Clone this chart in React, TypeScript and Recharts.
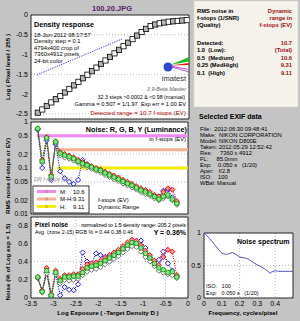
import React from "react";
import { CartesianGrid, ComposedChart, Line, ReferenceArea, ReferenceLine, XAxis, YAxis } from "recharts";

const FONT = '"Liberation Sans", Arial, Helvetica, sans-serif';

// log exposure of each density step
const exposure = [
  -3.35, -3.25, -3.15, -3.05, -2.95, -2.85, -2.75, -2.65, -2.55, -2.45, -2.35, -2.25, -2.15, -2.05, -1.95, -1.85,
  -1.75, -1.65, -1.55, -1.45, -1.35, -1.25, -1.15, -1.05, -0.95, -0.85, -0.75, -0.65, -0.55, -0.45, -0.35, -0.25,
];
const densityExposure = [...exposure, -0.15, -0.05];
const densityLevel = [
  -2.47, -2.39, -2.3, -2.21, -2.13, -2.05, -1.96, -1.87, -1.78, -1.69, -1.6, -1.51, -1.42, -1.33, -1.24, -1.15,
  -1.06, -0.97, -0.88, -0.79, -0.7, -0.61, -0.52, -0.43, -0.35, -0.28, -0.24, -0.21, -0.19, -0.17, -0.16, -0.15,
  -0.14, -0.13,
];
const gammaExposure = [-3.37, -1.48];
const gammaLevel = [-1.515, -0.606];

// RMS noise in f-stops
const rmsR = [
  0.72, 0.15, 0.47, 0.07, 0.38, 0.22, 0.2, 0.185, 0.17, 0.15, 0.135, 0.12, 0.11, 0.1, 0.093, 0.083, 0.075, 0.068,
  0.062, 0.055, 0.05, 0.045, 0.04, 0.036, 0.033, 0.03, 0.026, 0.024, 0.03, 0.036, 0.034, 0.019,
];
const rmsG = [
  0.72, 0.14, 0.45, 0.065, 0.37, 0.21, 0.19, 0.175, 0.16, 0.14, 0.125, 0.115, 0.105, 0.095, 0.088, 0.078, 0.07,
  0.063, 0.057, 0.051, 0.046, 0.042, 0.037, 0.033, 0.03, 0.027, 0.024, 0.021, 0.024, 0.026, 0.021, 0.017,
];
const rmsB = [
  0.68, 0.1, 0.4, 0.055, 0.33, 0.085, 0.06, 0.05, 0.045, 0.055, 0.15, 0.12, 0.1, 0.092, 0.085, 0.078, 0.072, 0.065,
  0.058, 0.052, 0.047, 0.042, 0.037, 0.033, 0.03, 0.027, 0.025, 0.024, 0.032, 0.034, 0.023, 0.018,
];
const rmsY = [
  0.7, 0.13, 0.43, 0.06, 0.35, 0.19, 0.17, 0.16, 0.145, 0.13, 0.115, 0.105, 0.096, 0.087, 0.08, 0.071, 0.064, 0.057,
  0.052, 0.046, 0.042, 0.038, 0.034, 0.03, 0.027, 0.025, 0.022, 0.02, 0.022, 0.024, 0.02, 0.016,
];
const rangeLevel = [0.5, 0.25, 0.1];
const rangeStart = [-3.37, -2.95, -2.93];
const rangeColor = ["#f088f0", "#f4b090", "#f0f000"];

// pixel noise, % of log exposure range
const pixR = [
  0.23, 0.08, 0.33, 0.04, 0.3, 0.21, 0.25, 0.25, 0.26, 0.26, 0.32, 0.37, 0.38, 0.39, 0.41, 0.44, 0.47, 0.5, 0.53,
  0.57, 0.61, 0.64, 0.63, 0.58, 0.52, 0.47, 0.41, 0.36, 0.45, 0.53, 0.51, 0.25,
];
const pixG = [
  0.23, 0.07, 0.3, 0.03, 0.28, 0.19, 0.23, 0.23, 0.24, 0.24, 0.28, 0.33, 0.35, 0.36, 0.38, 0.41, 0.44, 0.47, 0.5,
  0.54, 0.58, 0.61, 0.6, 0.55, 0.49, 0.44, 0.38, 0.33, 0.31, 0.28, 0.29, 0.23,
];
const pixB = [
  0.22, 0.08, 0.28, 0.0, 0.27, 0.03, 0.12, 0.09, 0.085, 0.15, 0.5, 0.4, 0.37, 0.49, 0.47, 0.45, 0.46, 0.49, 0.52,
  0.55, 0.58, 0.6, 0.62, 0.63, 0.55, 0.45, 0.4, 0.42, 0.51, 0.38, 0.3, 0.24,
];
const pixY = [
  0.22, 0.06, 0.27, 0.02, 0.26, 0.16, 0.2, 0.19, 0.2, 0.21, 0.25, 0.29, 0.31, 0.32, 0.34, 0.37, 0.4, 0.43, 0.46, 0.5,
  0.54, 0.57, 0.56, 0.51, 0.45, 0.4, 0.35, 0.3, 0.28, 0.26, 0.25, 0.22,
];

// noise spectrum
const freq = [
  0, 0.02, 0.04, 0.06, 0.08, 0.1, 0.12, 0.14, 0.16, 0.18, 0.2, 0.22, 0.24, 0.26, 0.28, 0.3, 0.32, 0.34, 0.36, 0.37,
  0.38, 0.4, 0.42, 0.44, 0.46, 0.48, 0.5,
];
const spectrum = [
  1.0, 0.95, 0.89, 0.82, 0.75, 0.69, 0.67, 0.68, 0.7, 0.67, 0.63, 0.62, 0.61, 0.58, 0.54, 0.51, 0.48, 0.45, 0.41, 0.38,
  0.4, 0.42, 0.41, 0.41, 0.41, 0.41, 0.41,
];

const xTicks = [-3.5, -3, -2.5, -2, -1.5, -1, -0.5, 0];
const densityTicks = [0, -0.5, -1, -1.5, -2, -2.5];
const rmsTicks = [0.01, 0.02, 0.05, 0.1, 0.2, 0.5, 1];
const pixTicks = [0, 0.2, 0.4, 0.6, 0.8];
const freqTicks = [0, 0.1, 0.2, 0.3, 0.4];
const specTicks = [0, 0.5, 1];

const densityRows = densityExposure.map((x, i) => ({ x, v: densityLevel[i] }));
const gammaRows = gammaExposure.map((x, i) => ({ x, v: gammaLevel[i] }));
const rmsRows = exposure.map((x, i) => ({ x, r: rmsR[i], g: rmsG[i], b: rmsB[i], y: rmsY[i] }));
const pixRows = exposure.map((x, i) => ({ x, r: pixR[i], g: pixG[i], b: pixB[i], y: pixY[i] }));
const specRows = freq.map((f, i) => ({ f, v: spectrum[i] }));

const fmt = (v: number) => String(v);
const tickStyle = { fontSize: 7, fill: "#000", fontFamily: FONT };

const squareDot = (p: any) => {
  const { cx, cy, index } = p;
  if (cx == null || cy == null) return <g key={`s${index}`} />;
  return (
    <rect key={`s${index}`} x={cx - 2.6} y={cy - 2.6} width={5.2} height={5.2}
      fill={index % 2 ? "#ffffff" : "#b4b4b4"} stroke="#000" strokeWidth={0.8} />
  );
};

const diamondDot = (stroke: string, fill: string) => (p: any) => {
  const { cx, cy, index } = p;
  if (cx == null || cy == null) return <g key={`${stroke}${index}`} />;
  const s = 2.6;
  return (
    <path key={`${stroke}${index}`} d={`M${cx},${cy - s}L${cx + s},${cy}L${cx},${cy + s}L${cx - s},${cy}Z`}
      stroke={stroke} strokeWidth={0.9} fill={fill} />
  );
};

const circleDot = (stroke: string, fill: string) => (p: any) => {
  const { cx, cy, index } = p;
  if (cx == null || cy == null) return <g key={`${stroke}${index}`} />;
  return <circle key={`${stroke}${index}`} cx={cx} cy={cy} r={2.3} stroke={stroke} strokeWidth={0.9} fill={fill} />;
};

const series = [
  { key: "b", color: "#0000ff", dot: diamondDot("#0000ff", "#ffffff") },
  { key: "y", color: "#555555", dot: diamondDot("#606060", "#ffffff") },
  { key: "r", color: "#ff0000", dot: diamondDot("#e00000", "#ff9090") },
  { key: "g", color: "#00a000", dot: circleDot("#00a000", "#90e090") },
];

const grid = <CartesianGrid fill="#fff" stroke="#b8b8b8" strokeDasharray="1 2" />;

const exifLines = [
  "File:  2012:06:30 09:48:41",
  "Make:  NIKON CORPORATION",
  "Model: NIKON D800E",
  "Taken: 2012:05:29 12:52:42",
  "Res:     7360 x 4912",
  "FL:     85.0mm",
  "Exp:    0.050 s   (1/20)",
  "Aper:   f/2.8",
  "ISO:    100",
  "WBal: Manual",
];
const qualityRows = [
  ["Detected:", "10.7"],
  ["1.0  (Low):", "(Total)"],
  ["0.5  (Medium)", "10.6"],
  ["0.25 (MedHigh)", "9.31"],
  ["0.1  (High)", "9.11"],
];
const legendRows = [
  ["M:", "10.6"],
  ["M-H:", "9.31"],
  ["H:", "9.11"],
];

const abs: React.CSSProperties = { position: "absolute", left: 0, top: 0 };

export default function App() {
  return (
    <div style={{ ...abs, width: 300, height: 321, background: "#c4c4c4", overflow: "hidden", fontFamily: FONT }}>
      {/* density response */}
      <div style={abs}>
        <ComposedChart width={300} height={321} margin={{ top: 15, right: 111, bottom: 202, left: 0 }}>
          {grid}
          <XAxis type="number" dataKey="x" domain={[-3.5, 0]} ticks={xTicks} tick={false} tickLine={false}
            axisLine={false} height={0} allowDataOverflow />
          <YAxis type="number" domain={[-2.63, 0]} ticks={densityTicks} tickFormatter={fmt} width={31} tick={tickStyle}
            tickLine={false} axisLine={false} tickSize={2} tickMargin={1} allowDataOverflow />
          <ReferenceArea x1={-3.5} x2={0} y1={-2.63} y2={0} fill="none" stroke="#000" strokeWidth={0.8} />
          <Line data={gammaRows} dataKey="v" stroke="#3030c8" strokeDasharray="1.2 1.2" dot={false}
            isAnimationActive={false} />
          <Line data={densityRows} dataKey="v" stroke="none" dot={squareDot} isAnimationActive={false} />
        </ComposedChart>
      </div>

      {/* RMS noise */}
      <div style={abs}>
        <ComposedChart width={300} height={321} data={rmsRows} margin={{ top: 122, right: 112, bottom: 107, left: 0 }}>
          {grid}
          <XAxis type="number" dataKey="x" domain={[-3.5, 0]} ticks={xTicks} tick={false} tickLine={false}
            axisLine={false} height={0} allowDataOverflow />
          <YAxis type="number" scale="log" domain={[0.01, 1]} ticks={rmsTicks} tickFormatter={fmt} width={31}
            tick={tickStyle} tickLine={false} axisLine={false} tickSize={2} tickMargin={1} allowDataOverflow />
          <ReferenceArea x1={-3.5} x2={0} y1={0.01} y2={1} fill="none" stroke="#000" strokeWidth={0.8} />
          {rangeLevel.map((lv, i) => (
            <ReferenceLine key={lv} segment={[{ x: rangeStart[i], y: lv }, { x: 0, y: lv }]} stroke={rangeColor[i]}
              strokeWidth={3} />
          ))}
          {series.map((s) => (
            <Line key={s.key} dataKey={s.key} stroke={s.color} strokeWidth={1} strokeDasharray="1.2 1.2" dot={s.dot}
              isAnimationActive={false} />
          ))}
        </ComposedChart>
      </div>

      {/* pixel noise */}
      <div style={abs}>
        <ComposedChart width={300} height={321} data={pixRows} margin={{ top: 217, right: 112, bottom: 0, left: 0 }}>
          {grid}
          <XAxis type="number" dataKey="x" domain={[-3.5, 0]} ticks={xTicks} tickFormatter={fmt} tick={tickStyle}
            tickLine={false} axisLine={false} height={23} tickSize={1} tickMargin={2.5} allowDataOverflow />
          <YAxis type="number" domain={[0, 0.89]} ticks={pixTicks} tickFormatter={fmt} width={31} tick={tickStyle}
            tickLine={false} axisLine={false} tickSize={2} tickMargin={1} allowDataOverflow />
          <ReferenceArea x1={-3.5} x2={0} y1={0} y2={0.89} fill="none" stroke="#000" strokeWidth={0.8} />
          {series.map((s) => (
            <Line key={s.key} dataKey={s.key} stroke={s.color} strokeWidth={1} strokeDasharray="1.2 1.2" dot={s.dot}
              isAnimationActive={false} />
          ))}
        </ComposedChart>
      </div>

      {/* noise spectrum */}
      <div style={abs}>
        <ComposedChart width={300} height={321} data={specRows} margin={{ top: 233, right: 7, bottom: 0, left: 0 }}>
          {grid}
          <XAxis type="number" dataKey="f" domain={[0, 0.5]} ticks={freqTicks} tickFormatter={fmt} tick={tickStyle}
            tickLine={false} axisLine={false} height={23} tickSize={1} tickMargin={2.5} allowDataOverflow />
          <YAxis type="number" domain={[0, 1]} ticks={specTicks} tickFormatter={fmt} width={204} tick={tickStyle}
            tickLine={false} axisLine={false} tickSize={2} tickMargin={1} allowDataOverflow />
          <ReferenceArea x1={0} x2={0.5} y1={0} y2={1} fill="none" stroke="#000" strokeWidth={0.8} />
          <Line dataKey="v" stroke="#4040c0" strokeWidth={0.9} dot={false} isAnimationActive={false} />
        </ComposedChart>
      </div>

      {/* annotations */}
      <svg style={abs} width={300} height={321} fontFamily={FONT}>
        <text x={112} y={11} fontSize={7.5} fontWeight="bold" fill="#5a1a6a" textAnchor="middle">100.20.JPG</text>

        {/* axis titles */}
        <g fontWeight="bold" fontSize={6.2} textAnchor="middle" fill="#000">
          <text transform="translate(10,67) rotate(-90)">Log ( Pixel level / 255 )</text>
          <text transform="translate(10,176) rotate(-90)">RMS noise (f-stops or EV)</text>
          <text transform="translate(10,262) rotate(-90)">Noise (% of Log exp = 1.5)</text>
          <text x={108} y={315}>Log Exposure ( -Target Density D )</text>
          <text x={243} y={315}>Frequency, cycles/pixel</text>
        </g>

        {/* density panel */}
        <text x={34} y={26.5} fontSize={7.2} fontWeight="bold">Density response</text>
        <g fontSize={5.8}>
          <text x={34} y={36.5}>18-Jun-2012 08:17:57</text>
          <text x={34} y={43}>Density step = 0.1</text>
          <text x={34} y={49.5}>4794x400 crop of</text>
          <text x={34} y={56}>7360x4912 pixels</text>
          <text x={34} y={62.5}>24-bit color</text>
        </g>
        <polygon points="170,65 189,57 189,61.5" fill="#20c020" />
        <polygon points="170,65.5 189,63 189,65" fill="#e02020" />
        <line x1={170} y1={66} x2={189} y2={69.5} stroke="#e040e0" strokeWidth={1.2} />
        <line x1={170} y1={66.5} x2={189} y2={72} stroke="#8040c0" strokeWidth={0.8} />
        <circle cx={168} cy={67} r={4.5} fill="#2848d8" />
        <text x={174} y={81} fontSize={7.6} fill="#303030" textAnchor="middle">imatest</text>
        <text x={186} y={91} fontSize={5.5} fontStyle="italic" fill="#606060" textAnchor="end">3.9-Beta Master</text>
        <text x={185} y={98.5} fontSize={5.3} textAnchor="end">32.3 steps &gt;0.0002 &amp; &lt;0.98 (manual)</text>
        <text x={186} y={105.5} fontSize={5.7} textAnchor="end" style={{ whiteSpace: "pre" }}>Gamma = 0.507 = 1/1.97  Exp err = 1.00 EV</text>
        <text x={186} y={115} fontSize={6.2} textAnchor="end" fill="#b00000">Detected range = 10.7 f-stops (EV)</text>

        {/* rms panel */}
        <text x={187} y={132} fontSize={7.2} fontWeight="bold" textAnchor="end">Noise: R, G, B, Y (Luminance)</text>
        <text x={186} y={141} fontSize={5.8} textAnchor="end">in f-stops (EV)</text>
        <text x={34} y={181} fontSize={5.5} fill="#8c8c8c">DR f-stops (EV)</text>
        <text x={98} y={202} fontSize={5.8}>f-stops (EV)</text>
        <text x={98} y={209} fontSize={5.8}>Dynamic Range</text>
        <rect x={33} y={186} width={56} height={27} fill="#fff" stroke="#000" strokeWidth={0.8} />
        {legendRows.map((row, i) => (
          <g key={row[0]}>
            <line x1={37} x2={56} y1={191.5 + i * 7.5} y2={191.5 + i * 7.5} stroke={rangeColor[i]} strokeWidth={3} />
            <circle cx={46.5} cy={191.5 + i * 7.5} r={1.2} fill={rangeColor[i]} stroke="#a06060" strokeWidth={0.4} />
            <text x={60} y={193.5 + i * 7.5} fontSize={6}>{row[0]}</text>
            <text x={73} y={193.5 + i * 7.5} fontSize={6}>{row[1]}</text>
          </g>
        ))}

        {/* pixel noise panel */}
        <text x={35} y={226.5} fontSize={6.3} fontWeight="bold">Pixel noise</text>
        <text x={186} y={226.5} fontSize={5.3} textAnchor="end">normalized to 1.5 density range: 205.2 pixels</text>
        <text x={35} y={234} fontSize={5.3}>Avg. (zone 2-15) RGB % = 0.44  0.38  0.46</text>
        <text x={186} y={234.5} fontSize={7} fontWeight="bold" textAnchor="end">Y = 0.36%</text>

        {/* quality box */}
        <rect x={194} y={1} width={104} height={106} fill="#f5f1eb" stroke="#ddd6cc" strokeWidth={0.6} />
        <g fontSize={5.8} fontWeight="bold">
          <text x={197} y={12.5}>RMS noise in</text>
          <text x={197} y={19.5}>f-stops (1/SNR)</text>
          <text x={197} y={26.5}>(Quality)</text>
          <g fill="#a01010" textAnchor="end">
            <text x={292} y={12.5}>Dynamic</text>
            <text x={292} y={19.5}>range in</text>
            <text x={292} y={26.5}>f-stops (EV)</text>
          </g>
          {qualityRows.map((row, i) => (
            <g key={row[0]}>
              <text x={197} y={44.5 + i * 7.5} style={{ whiteSpace: "pre" }}>{row[0]}</text>
              <text x={292} y={44.5 + i * 7.5} fill="#a01010" textAnchor="end">{row[1]}</text>
            </g>
          ))}
        </g>

        {/* exif */}
        <text x={199} y={119} fontSize={7} fontWeight="bold">Selected EXIF data</text>
        <g fontSize={5.8}>
          {exifLines.map((t, i) => (
            <text key={t} x={200} y={131 + i * 5.95} style={{ whiteSpace: "pre" }}>{t}</text>
          ))}
        </g>

        {/* spectrum */}
        <text x={237} y={244} fontSize={7} fontWeight="bold">Noise spectrum</text>
        <text x={206} y={288} fontSize={5.5} style={{ whiteSpace: "pre" }}>ISO:   100</text>
        <text x={206} y={295} fontSize={5.5} style={{ whiteSpace: "pre" }}>Exp:   0.050 s   (1/20)</text>
      </svg>
    </div>
  );
}
